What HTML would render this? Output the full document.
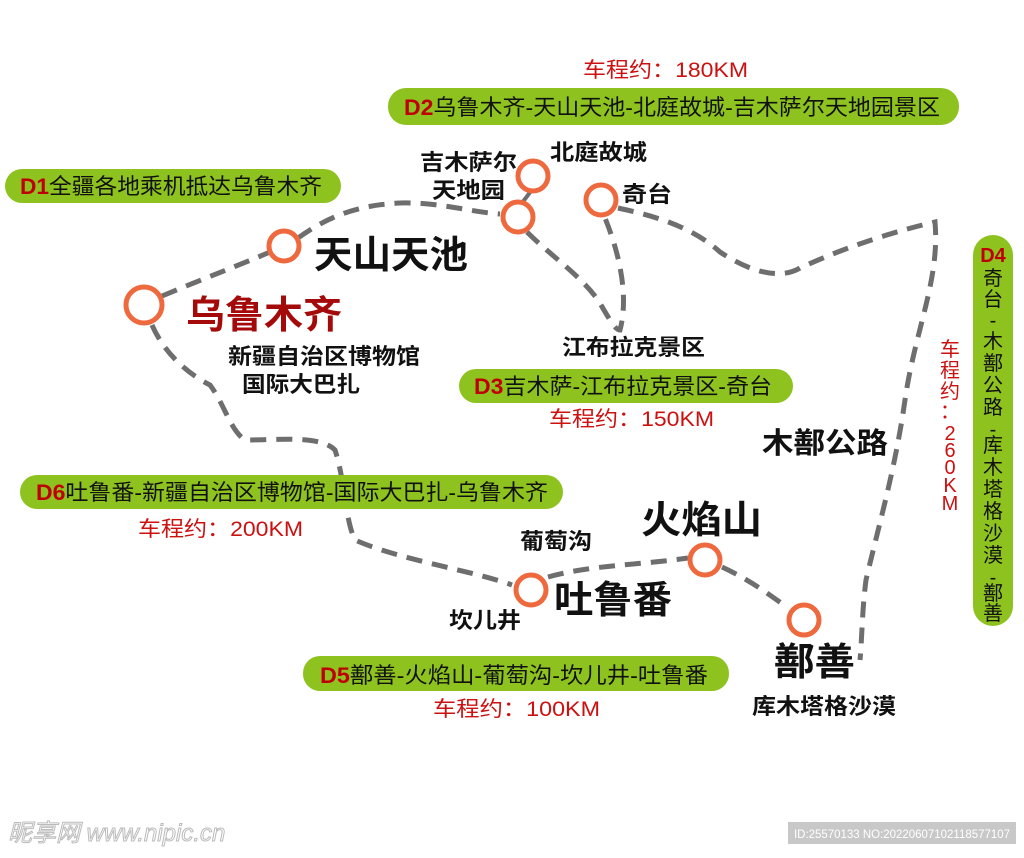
<!DOCTYPE html>
<html><head><meta charset="utf-8"><style>
html,body{margin:0;padding:0;background:#fff;}
svg text{font-family:"Liberation Sans","Noto Sans CJK SC",sans-serif;}
</style></head><body>
<svg width="1024" height="853" viewBox="0 0 1024 853" xmlns="http://www.w3.org/2000/svg">
<g fill="none" stroke="#6e6e6e" stroke-width="5" stroke-dasharray="16,10" stroke-linecap="butt">
<path d="M162,296 C200,280 240,265 270,252"/>
<path d="M298,238 C330,215 360,205 400,203 C440,202 470,212 500,214"/>
<path d="M527,232 C550,255 580,275 598,300 C610,320 615,330 620,330 C628,300 622,260 605,218"/>
<path d="M618,208 C650,215 690,225 720,252 C750,272 780,280 800,268 C850,245 900,230 935,222 C940,280 915,330 905,400 C895,470 880,520 866,580 C862,610 862,640 860,660"/>
<path d="M152,325 C165,355 190,375 210,385 C225,405 230,430 245,440 C280,440 320,435 335,450 C345,480 345,520 355,540 C400,560 470,570 512,585"/>
<path d="M548,577 C590,565 640,565 688,558"/>
<path d="M722,567 C750,580 770,595 788,608"/>
</g>
<line x1="531" y1="191" x2="522" y2="203" stroke="#6e6e6e" stroke-width="4"/>
<g fill="#fff" stroke="#ee6a3e" stroke-width="5">
<circle cx="144" cy="305" r="18"/>
<circle cx="284" cy="246" r="15"/>
<circle cx="533" cy="176" r="15"/>
<circle cx="518" cy="217" r="15"/>
<circle cx="601" cy="200" r="15"/>
<circle cx="531" cy="590" r="15"/>
<circle cx="705" cy="560" r="15"/>
<circle cx="804" cy="620" r="15"/>
</g>
<g fill="#8dc21f">
<rect x="5" y="169" width="336" height="34" rx="17"/>
<rect x="388" y="88" width="571" height="37" rx="18"/>
<rect x="459" y="369" width="334" height="34" rx="17"/>
<rect x="20" y="475" width="543" height="34" rx="17"/>
<rect x="303" y="656" width="426" height="35" rx="17"/>
<rect x="973" y="235" width="40" height="391" rx="20"/>
</g>
<g font-size="22" fill="#111" lengthAdjust="spacingAndGlyphs">
<text x="20" y="194" textLength="302" lengthAdjust="spacingAndGlyphs"><tspan fill="#c00000" font-weight="bold">D1</tspan>全疆各地乘机抵达乌鲁木齐</text>
<text x="404" y="115" textLength="536" lengthAdjust="spacingAndGlyphs"><tspan fill="#c00000" font-weight="bold">D2</tspan>乌鲁木齐-天山天池-北庭故城-吉木萨尔天地园景区</text>
<text x="474" y="394" textLength="298" lengthAdjust="spacingAndGlyphs"><tspan fill="#c00000" font-weight="bold">D3</tspan>吉木萨-江布拉克景区-奇台</text>
<text x="36" y="500" textLength="512" lengthAdjust="spacingAndGlyphs"><tspan fill="#c00000" font-weight="bold">D6</tspan>吐鲁番-新疆自治区博物馆-国际大巴扎-乌鲁木齐</text>
<text x="320" y="683" textLength="388" lengthAdjust="spacingAndGlyphs"><tspan fill="#c00000" font-weight="bold">D5</tspan>鄯善-火焰山-葡萄沟-坎儿井-吐鲁番</text>
</g>
<g font-size="20" fill="#111" text-anchor="middle">
<text x="993" y="262" fill="#c00000" font-weight="bold">D4</text>
<text x="993" y="285">奇</text><text x="993" y="306">台</text><text x="993" y="327">-</text>
<text x="993" y="348">木</text><text x="993" y="370">鄯</text><text x="993" y="392">公</text><text x="993" y="414">路</text>
<text x="993" y="436">-</text><text x="993" y="452">库</text><text x="993" y="474">木</text><text x="993" y="496">塔</text>
<text x="993" y="518">格</text><text x="993" y="540">沙</text><text x="993" y="562">漠</text><text x="993" y="584">-</text>
<text x="993" y="600">鄯</text><text x="993" y="620">善</text>
</g>
<g font-size="21" fill="#cc1111">
<text x="583" y="77" textLength="165" lengthAdjust="spacingAndGlyphs">车程约：180KM</text>
<text x="549" y="426" textLength="165" lengthAdjust="spacingAndGlyphs">车程约：150KM</text>
<text x="138" y="536" textLength="165" lengthAdjust="spacingAndGlyphs">车程约：200KM</text>
<text x="433" y="716" textLength="167" lengthAdjust="spacingAndGlyphs">车程约：100KM</text>
</g>
<g font-size="20" fill="#cc1111" text-anchor="middle">
<text x="950" y="356">车</text><text x="950" y="377">程</text><text x="950" y="398">约</text>
<text x="950" y="418">：</text><text x="950" y="440">2</text><text x="950" y="457">6</text><text x="950" y="474">0</text><text x="950" y="492">K</text><text x="950" y="510">M</text>
</g>
<g font-weight="bold" fill="#111">
<text x="314" y="268" font-size="38" textLength="154" lengthAdjust="spacingAndGlyphs">天山天池</text>
<text x="186" y="328" font-size="38" fill="#a50a0a" textLength="156" lengthAdjust="spacingAndGlyphs">乌鲁木齐</text>
<text x="228" y="364" font-size="22" textLength="192" lengthAdjust="spacingAndGlyphs">新疆自治区博物馆</text>
<text x="242" y="392" font-size="22" textLength="118" lengthAdjust="spacingAndGlyphs">国际大巴扎</text>
<text x="420" y="170" font-size="22" textLength="97" lengthAdjust="spacingAndGlyphs">吉木萨尔</text>
<text x="432" y="198" font-size="22" textLength="73" lengthAdjust="spacingAndGlyphs">天地园</text>
<text x="550" y="160" font-size="22" textLength="97" lengthAdjust="spacingAndGlyphs">北庭故城</text>
<text x="622" y="202" font-size="22" textLength="50" lengthAdjust="spacingAndGlyphs">奇台</text>
<text x="562" y="355" font-size="22" textLength="143" lengthAdjust="spacingAndGlyphs">江布拉克景区</text>
<text x="762" y="453" font-size="29" textLength="126" lengthAdjust="spacingAndGlyphs">木鄯公路</text>
<text x="641" y="533" font-size="38" textLength="121" lengthAdjust="spacingAndGlyphs">火焰山</text>
<text x="520" y="549" font-size="22" textLength="72" lengthAdjust="spacingAndGlyphs">葡萄沟</text>
<text x="554" y="613" font-size="38" textLength="118" lengthAdjust="spacingAndGlyphs">吐鲁番</text>
<text x="449" y="628" font-size="22" textLength="72" lengthAdjust="spacingAndGlyphs">坎儿井</text>
<text x="774" y="675" font-size="38" textLength="81" lengthAdjust="spacingAndGlyphs">鄯善</text>
<text x="752" y="714" font-size="22" textLength="144" lengthAdjust="spacingAndGlyphs">库木塔格沙漠</text>
</g>
<text x="8" y="841" font-size="24" fill="#fff" stroke="#bbb" stroke-width="1" font-style="italic">昵享网 www.nipic.cn</text>
<rect x="788" y="822" width="228" height="22" fill="#c8c8c8"/>
<text x="794" y="838" font-size="12" fill="#fff" textLength="216" lengthAdjust="spacingAndGlyphs">ID:25570133 NO:20220607102118577107</text>
</svg>
</body></html>
